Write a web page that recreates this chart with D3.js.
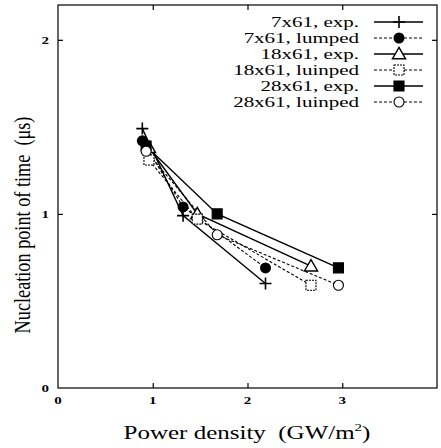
<!DOCTYPE html>
<html>
<head>
<meta charset="utf-8">
<script src="https://cdn.jsdelivr.net/npm/d3@7"></script>
<style>
  body { margin: 0; background: #fff; }
  svg text { font-family: "Liberation Serif", "DejaVu Serif", serif; fill: #000; white-space: pre; }
</style>
</head>
<body>
<div id="chart"></div>
<script>
// values
const seriesNames = ["7x61, exp.", "7x61, lumped", "18x61, exp.", "18x61, luinped", "28x61, exp.", "28x61, luinped"];
const seriesMarkers = ["plus", "dot", "triangle", "openSquare", "square", "circle"];
const seriesDashed = [false, true, false, true, false, true];
const xs7 = [0.89, 1.32, 2.19];
const xs18 = [0.96, 1.47, 2.67];
const xs28 = [0.93, 1.68, 2.96];
const y7exp = [1.49, 0.99, 0.6];
const y7lump = [1.42, 1.04, 0.69];
const y18exp = [1.38, 1.0, 0.7];
const y18lump = [1.31, 0.97, 0.59];
const y28exp = [1.39, 1.0, 0.69];
const y28lump = [1.36, 0.88, 0.59];
const xTicks = [0, 1, 2, 3];
const yTicks = [0, 1, 2];

const seriesX = [xs7, xs7, xs18, xs18, xs28, xs28];
const seriesY = [y7exp, y7lump, y18exp, y18lump, y28exp, y28lump];

let w = 441, h = 448;
let padL = 58, padR = 437, padT = 5, padB = 388;
let squash = 0.76; // the scanned figure is squeezed vertically

let svg = d3.select("#chart").append("svg").attr("width", w).attr("height", h);

let xScale = d3.scaleLinear().domain([0, 4]).range([padL, padR]);
let yScale = d3.scaleLinear().domain([0, 2.2]).range([padB, padT]);

// frame
svg.append("rect").
attr("x", padL).attr("y", padT).
attr("width", padR - padL).attr("height", padB - padT).
attr("fill", "none").attr("stroke", "#000").attr("stroke-width", 1.2);

// inward ticks on all four sides
const tickLen = 5;
const xIn = xTicks.filter(d => d > 0);
const yIn = yTicks.filter(d => d > 0);
svg.append("g").attr("transform", "translate(0," + padB + ")").
call(d3.axisBottom(xScale).tickValues(xIn).tickSize(-tickLen).tickFormat(""));
svg.append("g").attr("transform", "translate(0," + padT + ")").
call(d3.axisTop(xScale).tickValues(xIn).tickSize(-tickLen).tickFormat(""));
svg.append("g").attr("transform", "translate(" + padL + ",0)").
call(d3.axisLeft(yScale).tickValues(yIn).tickSize(-tickLen).tickFormat(""));
svg.append("g").attr("transform", "translate(" + padR + ",0)").
call(d3.axisRight(yScale).tickValues(yIn).tickSize(-tickLen).tickFormat(""));
svg.selectAll(".domain").remove();
svg.selectAll(".tick line").attr("stroke", "#000").attr("stroke-width", 1.2);

// tick labels
svg.selectAll(".xlab").data(xTicks).enter().append("text").
attr("transform", d => `translate(${xScale(d)},${padB + 16}) scale(1,${squash})`).
attr("text-anchor", "middle").style("font-size", "15px").style("font-weight", "bold").
text(d => d);
svg.selectAll(".ylab").data(yTicks).enter().append("text").
attr("transform", d => `translate(${padL - 9},${yScale(d) + 4}) scale(1,${squash})`).
attr("text-anchor", "end").style("font-size", "15px").style("font-weight", "bold").
text(d => d);

// axis titles
svg.append("text").attr("transform", `translate(247,439) scale(1,${squash})`).
attr("text-anchor", "middle").style("font-size", "25px").
html('Power density  (GW/m<tspan dy="-10" style="font-size:15px">2</tspan><tspan dy="10">)</tspan>');
svg.append("text").attr("transform", `translate(30,225) rotate(-90) scale(${squash},1)`).
attr("text-anchor", "middle").style("font-size", "24px").
text("Nucleation point of time  (\u03bcs)");

function drawMarker(g, type, cx, cy) {
  if (type === "plus") {
    g.append("path").
    attr("d", `M${cx - 6},${cy}H${cx + 6}M${cx},${cy - 6}V${cy + 6}`).
    attr("stroke", "#000").attr("stroke-width", 1.6).attr("fill", "none");
  } else if (type === "dot") {
    g.append("circle").attr("cx", cx).attr("cy", cy).attr("r", 5.5).attr("fill", "#000");
  } else if (type === "circle") {
    g.append("circle").attr("cx", cx).attr("cy", cy).attr("r", 5).
    attr("fill", "#fff").attr("stroke", "#000").attr("stroke-width", 1.1);
  } else if (type === "square" || type === "openSquare") {
    g.append("path").attr("transform", `translate(${cx},${cy})`).
    attr("d", d3.symbol(d3.symbolSquare, 100)()).
    attr("fill", type === "square" ? "#000" : "#fff").
    attr("stroke", "#000").attr("stroke-width", 1.1).
    attr("stroke-dasharray", type === "openSquare" ? "2,1" : null);
  } else if (type === "triangle") {
    g.append("path").attr("transform", `translate(${cx},${cy + 1})`).
    attr("d", d3.symbol(d3.symbolTriangle, 75)()).
    attr("fill", "#fff").attr("stroke", "#000").attr("stroke-width", 1.4);
  }
}

let line = d3.line().x(d => xScale(d[0])).y(d => yScale(d[1]));

// series lines
seriesNames.forEach((name, i) => {
  let pts = seriesX[i].map((x, j) => [x, seriesY[i][j]]);
  svg.append("path").datum(pts).
  attr("d", line).attr("fill", "none").attr("stroke", "#000").
  attr("stroke-width", seriesDashed[i] ? 1.1 : 1.4).
  attr("stroke-dasharray", seriesDashed[i] ? "3,2" : null);
});
// series markers
seriesNames.forEach((name, i) => {
  let g = svg.append("g");
  seriesX[i].forEach((x, j) => drawMarker(g, seriesMarkers[i], xScale(x), yScale(seriesY[i][j])));
});

// legend (rows are tight, so the text is squeezed a bit more)
let legend = svg.append("g");
seriesNames.forEach((name, i) => {
  let y = 22 + i * 16;
  legend.append("text").attr("transform", `translate(359,${y + 5}) scale(1,0.68)`).
  attr("text-anchor", "end").style("font-size", "21px").text(name);
  legend.append("line").attr("x1", 374).attr("x2", 423).attr("y1", y).attr("y2", y).
  attr("stroke", "#000").attr("stroke-width", seriesDashed[i] ? 1.1 : 1.4).
  attr("stroke-dasharray", seriesDashed[i] ? "3,2" : null);
  drawMarker(legend, seriesMarkers[i], 399, y);
});
</script>
</body>
</html>
